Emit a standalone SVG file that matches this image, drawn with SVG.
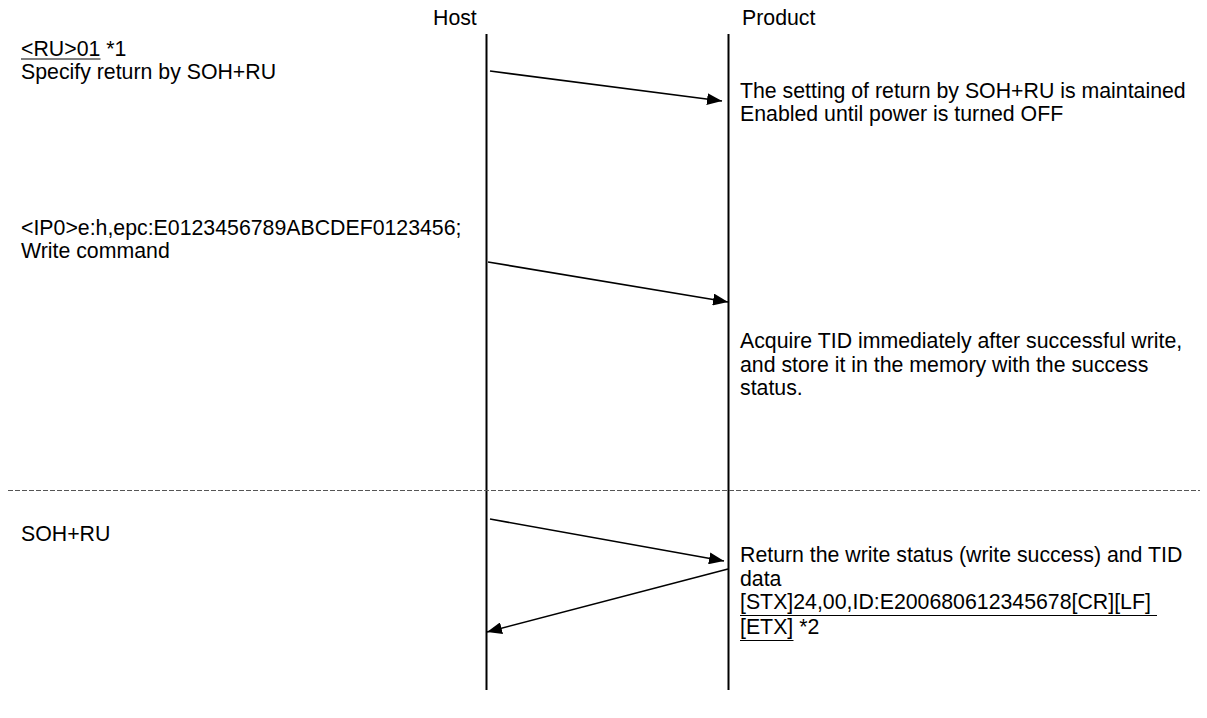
<svg xmlns="http://www.w3.org/2000/svg" width="1207" height="718" viewBox="0 0 1207 718">
<style>
text{font-family:"Liberation Sans",Arial,sans-serif;font-size:21.3px;fill:#000}
.ul{stroke:#000;stroke-width:1.2;fill:none}
.life{stroke:#000;stroke-width:2;fill:none}
.msg{stroke:#000;stroke-width:1.6;fill:none}
.sep{stroke:#555;stroke-width:1;stroke-dasharray:5 2;fill:none}
</style>
<defs>
<marker id="ah" viewBox="0 0 10 10" refX="10" refY="5" markerWidth="15" markerHeight="12" markerUnits="userSpaceOnUse" orient="auto" preserveAspectRatio="none">
<path d="M0,0 L10,5 L0,10 Z" fill="#000"/>
</marker>
</defs>
<rect width="1207" height="718" fill="#fff"/>
<g id="host">
<text x="433" y="25">Host</text>
<line class="life" x1="486.5" y1="34" x2="486.5" y2="690"/>
</g>
<g id="product">
<text x="742" y="25">Product</text>
<line class="life" x1="728.5" y1="34" x2="728.5" y2="690"/>
</g>
<g id="separator">
<line class="sep" x1="8" y1="490.5" x2="1200" y2="490.5"/>
</g>
<g id="notes-left">
<text x="21" y="56">&lt;RU&gt;01 *1</text>
<line class="ul" x1="21" y1="59" x2="100.5" y2="59"/>
<text x="21" y="79">Specify return by SOH+RU</text>
<text x="21" y="235">&lt;IP0&gt;e:h,epc:E0123456789ABCDEF0123456;</text>
<text x="21" y="258">Write command</text>
<text x="21" y="541">SOH+RU</text>
</g>
<g id="notes-right">
<text x="740" y="98">The setting of return by SOH+RU is maintained</text>
<text x="740" y="121">Enabled until power is turned OFF</text>
<text x="740" y="348">Acquire TID immediately after successful write,</text>
<text x="740" y="372">and store it in the memory with the success</text>
<text x="740" y="395">status.</text>
<text x="740" y="562">Return the write status (write success) and TID</text>
<text x="740" y="586">data</text>
<text x="740" y="609">[STX]24,00,ID:E200680612345678[CR][LF]</text>
<line class="ul" x1="740" y1="615.5" x2="1157" y2="615.5"/>
<text x="740" y="634">[ETX] *2</text>
<line class="ul" x1="740" y1="640.5" x2="793.5" y2="640.5"/>
</g>
<g id="connectors">
<line class="msg" x1="490" y1="71" x2="722" y2="101" marker-end="url(#ah)"/>
<line class="msg" x1="488" y1="262" x2="728" y2="302" marker-end="url(#ah)"/>
<line class="msg" x1="490" y1="519" x2="724" y2="561" marker-end="url(#ah)"/>
<line class="msg" x1="728" y1="569" x2="487" y2="632" marker-end="url(#ah)"/>
</g>
</svg>
